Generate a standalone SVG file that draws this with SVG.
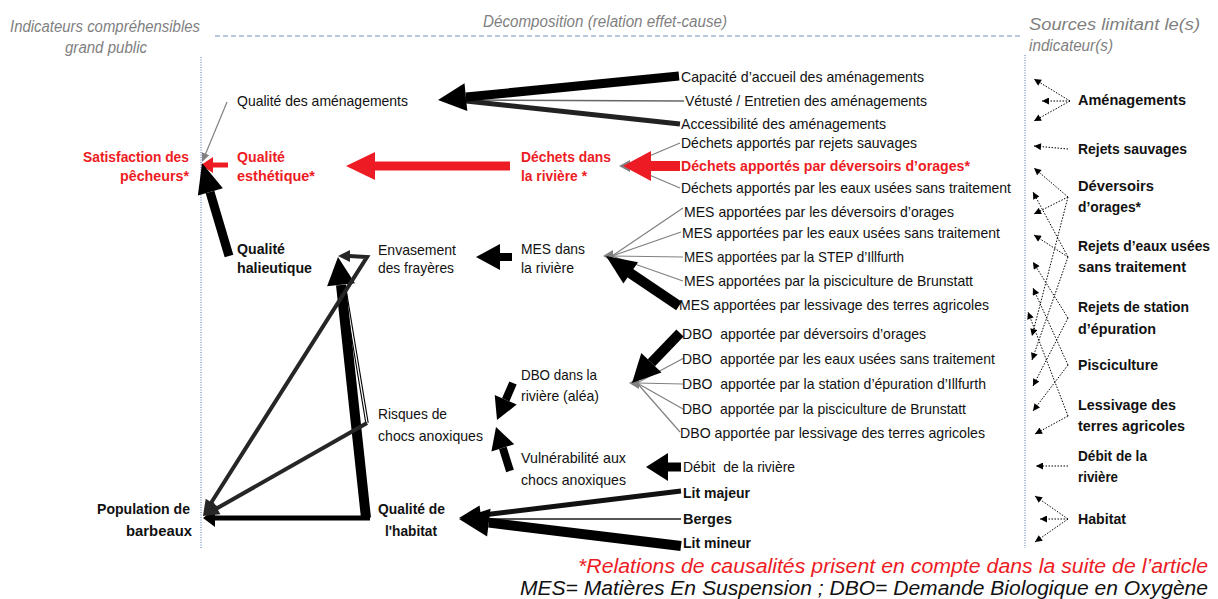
<svg xmlns="http://www.w3.org/2000/svg" width="1218" height="599" viewBox="0 0 1218 599">
<style>
text{font-family:"Liberation Sans",Arial,sans-serif;font-size:15px;fill:#111}
.b{font-weight:bold}
.s{font-size:14px}
.r{font-weight:bold;fill:#ed1c24}
.h{font-style:italic;fill:#7f7f7f;font-size:16px}
.f{font-style:italic;font-size:20px}
.fr{fill:#ed1c24}
.dot{stroke:#000;stroke-width:1;stroke-dasharray:1.5 1.5;fill:none;marker-end:url(#dh)}
.blk{fill:#000}
.red{fill:#ed1c24}
.gry{fill:#808080}
.dg{fill:#262626}
</style>
<defs>
<marker id="dh" viewBox="0 0 10 10" refX="10" refY="5" markerWidth="9" markerHeight="7" markerUnits="userSpaceOnUse" orient="auto">
<path d="M0,0 L10,5 L0,10 z" fill="#000"/>
</marker>
</defs>
<rect width="1218" height="599" fill="#fff"/>

<g id="headers">
<text class="h" x="10" y="32" textLength="190" lengthAdjust="spacingAndGlyphs">Indicateurs compréhensibles</text>
<text class="h" x="65" y="53" textLength="82" lengthAdjust="spacingAndGlyphs">grand public</text>
<text class="h" x="483" y="27" textLength="244" lengthAdjust="spacingAndGlyphs">Décomposition (relation effet-cause)</text>
<text class="h" x="1029" y="30" textLength="171" lengthAdjust="spacingAndGlyphs">Sources limitant le(s)</text>
<text class="h" x="1029" y="51" textLength="84" lengthAdjust="spacingAndGlyphs">indicateur(s)</text>
<line x1="215" y1="36" x2="1022" y2="36" stroke="#a3b9d6" stroke-width="1.3" stroke-dasharray="5 3"/>
<line x1="201" y1="57" x2="201" y2="548" stroke="#4a6fb5" stroke-width="1" stroke-dasharray="1 1.5"/>
<line x1="1025" y1="55" x2="1025" y2="548" stroke="#4a6fb5" stroke-width="1" stroke-dasharray="1 1.5"/>
</g>

<g id="connectors">
<!-- amenagements -->
<line x1="684" y1="101" x2="466" y2="100" stroke="#666" stroke-width="1.5"/>
<line x1="680" y1="124" x2="466" y2="101" stroke="#222" stroke-width="5"/>
<line x1="679" y1="76" x2="466" y2="97" stroke="#000" stroke-width="9"/>
<polygon class="blk" points="438,100 464.5,83.3 467.3,111.1"/>
<!-- dechets -->
<line x1="680" y1="143" x2="628" y2="165" stroke="#808080" stroke-width="1.3"/>
<line x1="680" y1="188" x2="628" y2="166" stroke="#808080" stroke-width="1.3"/>
<polygon class="gry" points="619,166 630,160 630,172"/>
<line x1="680" y1="166" x2="650" y2="166" stroke="#ed1c24" stroke-width="10"/>
<polygon class="red" points="623,166 651,151 651,181"/>
<line x1="510" y1="166" x2="374" y2="166" stroke="#ed1c24" stroke-width="9"/>
<polygon class="red" points="346,166 375,152 375,180"/>
<line x1="228" y1="165" x2="212" y2="165" stroke="#ed1c24" stroke-width="5"/>
<polygon class="red" points="201,165 213,157 213,173"/>
<line x1="227" y1="102" x2="205.5" y2="154" stroke="#808080" stroke-width="1.2"/>
<polygon class="gry" points="202,162 201.8,152.2 209.2,155.2"/>
<line x1="229" y1="256" x2="210" y2="192" stroke="#000" stroke-width="9"/>
<polygon class="blk" points="202,163 222.9,188.2 197.9,195.4"/>
<!-- MES -->
<line x1="683" y1="208" x2="612" y2="256" stroke="#808080" stroke-width="1.2"/>
<line x1="681" y1="232" x2="612" y2="256" stroke="#808080" stroke-width="1.2"/>
<line x1="683" y1="257" x2="612" y2="256" stroke="#808080" stroke-width="1.2"/>
<line x1="683" y1="281" x2="612" y2="256" stroke="#808080" stroke-width="1.2"/>
<polygon class="gry" points="603,256 613,250 613,262"/>
<line x1="679" y1="306" x2="630" y2="273" stroke="#000" stroke-width="10"/>
<polygon class="blk" points="606,256 638,262.2 623.4,283.6"/>
<line x1="512" y1="257" x2="499" y2="257" stroke="#000" stroke-width="8"/>
<polygon class="blk" points="476,257 500,244 500,270"/>
<!-- left triangle -->
<line x1="367" y1="423" x2="345" y2="290" stroke="#000" stroke-width="3.5"/>
<line x1="367" y1="423" x2="345" y2="290" stroke="#fff" stroke-width="1.3"/>
<line x1="366" y1="518" x2="341" y2="285" stroke="#000" stroke-width="10"/>
<polygon class="blk" points="338,257 354.9,283.3 327.1,286.3"/>
<line x1="370" y1="518" x2="214" y2="518" stroke="#000" stroke-width="5"/>
<polygon class="blk" points="203,518 215,509 215,527"/>
<polyline points="349,256 367,257 211,503" fill="none" stroke="#262626" stroke-width="4"/>
<polygon class="dg" points="338,256 350,250 350,262"/>
<polygon class="dg" points="203,516 205.7,498.7 217.5,506.3"/>
<line x1="367" y1="423" x2="214" y2="510" stroke="#262626" stroke-width="4"/>
<polygon class="dg" points="203,516 213.5,502 220.4,514.2"/>
<!-- DBO -->
<line x1="513" y1="383" x2="505.7" y2="399.8" stroke="#000" stroke-width="8"/>
<polygon class="blk" points="497,420 494.7,395 516.7,404.6"/>
<line x1="510" y1="471" x2="502.8" y2="447.9" stroke="#000" stroke-width="8"/>
<polygon class="blk" points="496,427 514.2,444.2 491.4,451.6"/>
<line x1="684" y1="358" x2="637" y2="383" stroke="#808080" stroke-width="1.2"/>
<line x1="683" y1="384" x2="637" y2="383" stroke="#808080" stroke-width="1.2"/>
<line x1="683" y1="409" x2="637" y2="383" stroke="#808080" stroke-width="1.2"/>
<line x1="680" y1="432" x2="637" y2="383" stroke="#808080" stroke-width="1.2"/>
<polygon class="gry" points="629,383 639,377 639,389"/>
<line x1="680" y1="333" x2="651.4" y2="362.8" stroke="#000" stroke-width="10"/>
<polygon class="blk" points="632,383 641.3,353.1 661.5,372.5"/>
<line x1="681" y1="467" x2="667" y2="467" stroke="#000" stroke-width="9"/>
<polygon class="blk" points="646,467 668,453 668,481"/>
<!-- habitat -->
<line x1="681" y1="519" x2="485" y2="519" stroke="#555" stroke-width="2"/>
<line x1="681" y1="491" x2="481" y2="515.3" stroke="#111" stroke-width="5"/>
<line x1="681" y1="546" x2="488.8" y2="522.6" stroke="#000" stroke-width="10"/>
<polygon class="blk" points="459,519 490.5,508.7 487.1,536.5"/>
<polygon class="blk" points="459,518 479.6,505.4 482,525.2"/>
<!-- sources (dotted) -->
<line class="dot" x1="1070" y1="101" x2="1034" y2="79"/>
<line class="dot" x1="1070" y1="101" x2="1042" y2="101"/>
<line class="dot" x1="1070" y1="101" x2="1034" y2="121"/>
<line class="dot" x1="1068" y1="149" x2="1034" y2="146"/>
<line class="dot" x1="1068" y1="197" x2="1034" y2="168"/>
<line class="dot" x1="1068" y1="197" x2="1034" y2="214"/>
<line class="dot" x1="1068" y1="197" x2="1032" y2="336"/>
<line class="dot" x1="1068" y1="257" x2="1033" y2="192"/>
<line class="dot" x1="1068" y1="257" x2="1034" y2="235"/>
<line class="dot" x1="1068" y1="257" x2="1032" y2="360"/>
<line class="dot" x1="1068" y1="318" x2="1033" y2="262"/>
<line class="dot" x1="1068" y1="318" x2="1033" y2="386"/>
<line class="dot" x1="1068" y1="365" x2="1033" y2="288"/>
<line class="dot" x1="1068" y1="365" x2="1033" y2="411"/>
<line class="dot" x1="1068" y1="416" x2="1028" y2="312"/>
<line class="dot" x1="1068" y1="416" x2="1035" y2="434"/>
<line class="dot" x1="1068" y1="466" x2="1036" y2="466"/>
<line class="dot" x1="1068" y1="519" x2="1035" y2="496"/>
<line class="dot" x1="1068" y1="519" x2="1040" y2="519"/>
<line class="dot" x1="1068" y1="519" x2="1035" y2="542"/>
</g>

<g id="n-satisfaction">
<text class="r" x="189" y="162" text-anchor="end" textLength="106" lengthAdjust="spacingAndGlyphs">Satisfaction des</text>
<text class="r" x="189" y="181" text-anchor="end" textLength="69" lengthAdjust="spacingAndGlyphs">pêcheurs*</text>
</g>
<g id="n-population">
<text class="b" x="190" y="514" text-anchor="end" textLength="93" lengthAdjust="spacingAndGlyphs">Population de</text>
<text class="b" x="192" y="536" text-anchor="end" textLength="66" lengthAdjust="spacingAndGlyphs">barbeaux</text>
</g>
<g id="n-qualite-amenagements">
<text x="237" y="106" textLength="171" lengthAdjust="spacingAndGlyphs">Qualité des aménagements</text>
</g>
<g id="n-qualite-esthetique">
<text class="r" x="237" y="162" textLength="48" lengthAdjust="spacingAndGlyphs">Qualité</text>
<text class="r" x="237" y="181" textLength="78" lengthAdjust="spacingAndGlyphs">esthétique*</text>
</g>
<g id="n-qualite-halieutique">
<text class="b" x="237" y="254" textLength="48" lengthAdjust="spacingAndGlyphs">Qualité</text>
<text class="b" x="237" y="273" textLength="75" lengthAdjust="spacingAndGlyphs">halieutique</text>
</g>
<g id="n-envasement">
<text x="378" y="255" textLength="78" lengthAdjust="spacingAndGlyphs">Envasement</text>
<text x="378" y="273" textLength="76" lengthAdjust="spacingAndGlyphs">des frayères</text>
</g>
<g id="n-risques">
<text x="378" y="419" textLength="69" lengthAdjust="spacingAndGlyphs">Risques de</text>
<text x="378" y="441" textLength="105" lengthAdjust="spacingAndGlyphs">chocs anoxiques</text>
</g>
<g id="n-qualite-habitat">
<text class="b" x="378" y="514" textLength="67" lengthAdjust="spacingAndGlyphs">Qualité de</text>
<text class="b" x="411" y="536" text-anchor="middle" textLength="52" lengthAdjust="spacingAndGlyphs">l'habitat</text>
</g>
<g id="n-dechets-riviere">
<text class="r" x="521" y="162" textLength="90" lengthAdjust="spacingAndGlyphs">Déchets dans</text>
<text class="r" x="521" y="181" textLength="66" lengthAdjust="spacingAndGlyphs">la rivière *</text>
</g>
<g id="n-mes-riviere">
<text x="521" y="254" textLength="64" lengthAdjust="spacingAndGlyphs">MES dans</text>
<text x="521" y="273" textLength="53" lengthAdjust="spacingAndGlyphs">la rivière</text>
</g>
<g id="n-dbo-riviere">
<text x="521" y="380" textLength="76" lengthAdjust="spacingAndGlyphs">DBO dans la</text>
<text x="521" y="401" textLength="78" lengthAdjust="spacingAndGlyphs">rivière (aléa)</text>
</g>
<g id="n-vulnerabilite">
<text x="521" y="463" textLength="105" lengthAdjust="spacingAndGlyphs">Vulnérabilité aux</text>
<text x="521" y="485" textLength="105" lengthAdjust="spacingAndGlyphs">chocs anoxiques</text>
</g>

<g id="n-causes-amenagements">
<text x="681" y="82" textLength="243" lengthAdjust="spacingAndGlyphs">Capacité d’accueil des aménagements</text>
<text x="685" y="106" textLength="242" lengthAdjust="spacingAndGlyphs">Vétusté / Entretien des aménagements</text>
<text x="681" y="129" textLength="205" lengthAdjust="spacingAndGlyphs">Accessibilité des aménagements</text>
</g>
<g id="n-causes-dechets">
<text x="681" y="148" textLength="236" lengthAdjust="spacingAndGlyphs">Déchets apportés par rejets sauvages</text>
<text class="r" x="681" y="171" textLength="289" lengthAdjust="spacingAndGlyphs">Déchets apportés par déversoirs d’orages*</text>
<text x="681" y="193" textLength="330" lengthAdjust="spacingAndGlyphs">Déchets apportés par les eaux usées sans traitement</text>
</g>
<g id="n-causes-mes">
<text x="684" y="217" textLength="270" lengthAdjust="spacingAndGlyphs">MES apportées par les déversoirs d’orages</text>
<text x="682" y="238" textLength="318" lengthAdjust="spacingAndGlyphs">MES apportées par les eaux usées sans traitement</text>
<text x="684" y="262" textLength="220" lengthAdjust="spacingAndGlyphs">MES apportées par la STEP d’Illfurth</text>
<text x="684" y="286" textLength="289" lengthAdjust="spacingAndGlyphs">MES apportées par la pisciculture de Brunstatt</text>
<text x="679" y="310" textLength="310" lengthAdjust="spacingAndGlyphs">MES apportées par lessivage des terres agricoles</text>
</g>
<g id="n-causes-dbo">
<text xml:space="preserve" x="682" y="339" textLength="244" lengthAdjust="spacingAndGlyphs">DBO  apportée par déversoirs d’orages</text>
<text xml:space="preserve" x="682" y="364" textLength="313" lengthAdjust="spacingAndGlyphs">DBO  apportée par les eaux usées sans traitement</text>
<text xml:space="preserve" x="682" y="389" textLength="304" lengthAdjust="spacingAndGlyphs">DBO  apportée par la station d’épuration d’Illfurth</text>
<text xml:space="preserve" x="682" y="414" textLength="284" lengthAdjust="spacingAndGlyphs">DBO  apportée par la pisciculture de Brunstatt</text>
<text x="680" y="438" textLength="305" lengthAdjust="spacingAndGlyphs">DBO apportée par lessivage des terres agricoles</text>
</g>
<g id="n-debit">
<text xml:space="preserve" x="683" y="472" textLength="112" lengthAdjust="spacingAndGlyphs">Débit  de la rivière</text>
</g>
<g id="n-causes-habitat">
<text class="b" x="683" y="498" textLength="67" lengthAdjust="spacingAndGlyphs">Lit majeur</text>
<text class="b" x="683" y="524" textLength="49" lengthAdjust="spacingAndGlyphs">Berges</text>
<text class="b" x="683" y="548" textLength="68" lengthAdjust="spacingAndGlyphs">Lit mineur</text>
</g>

<g id="n-sources">
<text class="b" x="1078" y="105" textLength="108" lengthAdjust="spacingAndGlyphs">Aménagements</text>
<text class="b" x="1078" y="154" textLength="109" lengthAdjust="spacingAndGlyphs">Rejets sauvages</text>
<text class="b" x="1078" y="191" textLength="76" lengthAdjust="spacingAndGlyphs">Déversoirs</text>
<text class="b" x="1078" y="212" textLength="63" lengthAdjust="spacingAndGlyphs">d’orages*</text>
<text class="b s" x="1078" y="251" textLength="132" lengthAdjust="spacingAndGlyphs">Rejets d’eaux usées</text>
<text class="b" x="1078" y="272" textLength="108" lengthAdjust="spacingAndGlyphs">sans traitement</text>
<text class="b" x="1078" y="312" textLength="111" lengthAdjust="spacingAndGlyphs">Rejets de station</text>
<text class="b" x="1078" y="334" textLength="78" lengthAdjust="spacingAndGlyphs">d’épuration</text>
<text class="b" x="1078" y="370" textLength="80" lengthAdjust="spacingAndGlyphs">Pisciculture</text>
<text class="b" x="1078" y="410" textLength="98" lengthAdjust="spacingAndGlyphs">Lessivage des</text>
<text class="b" x="1078" y="431" textLength="107" lengthAdjust="spacingAndGlyphs">terres agricoles</text>
<text class="b" x="1078" y="461" textLength="69" lengthAdjust="spacingAndGlyphs">Débit de la</text>
<text class="b" x="1078" y="482" textLength="40" lengthAdjust="spacingAndGlyphs">rivière</text>
<text class="b" x="1078" y="524" textLength="48" lengthAdjust="spacingAndGlyphs">Habitat</text>
</g>

<g id="footer">
<text class="f fr" x="578" y="573" textLength="630" lengthAdjust="spacingAndGlyphs">*Relations de causalités prisent en compte dans la suite de l’article</text>
<text class="f" x="520" y="595" textLength="688" lengthAdjust="spacingAndGlyphs">MES= Matières En Suspension ; DBO= Demande Biologique en Oxygène</text>
</g>
</svg>
